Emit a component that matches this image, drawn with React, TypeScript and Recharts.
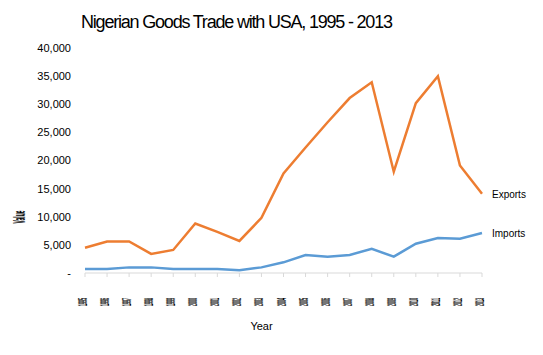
import { LineChart, Line, XAxis, YAxis, LabelList } from 'recharts';

const years = ['1995', '1996', '1997', '1998', '1999', '2000', '2001', '2002', '2003', '2004', '2005', '2006', '2007', '2008', '2009', '2010', '2011', '2012', '2013'];
const exportsUS = [4500, 5600, 5600, 3400, 4100, 8800, 7300, 5700, 9800, 17700, 22300, 26800, 31100, 33900, 18000, 30200, 35000, 19100, 14100];
const importsUS = [700, 700, 1000, 1000, 700, 700, 700, 500, 1000, 1900, 3200, 2900, 3200, 4300, 2900, 5200, 6200, 6100, 7100];
const yTicks = [0, 5000, 10000, 15000, 20000, 25000, 30000, 35000, 40000];

const data = years.map((year, i) => ({ year, exports: exportsUS[i], imports: importsUS[i] }));

const FONT = '"Liberation Sans", Arial, sans-serif';

function fmt(v: number) {
  return v === 0 ? '-' : v.toLocaleString('en-US');
}

// squashed, rotated year labels as in the source image
function YearTick(props: any) {
  const { x, y, payload } = props;
  return (
    <text
      transform={`translate(${x + 2},${y + 23}) rotate(-90)`}
      textAnchor="middle"
      fontSize={12}
      fontWeight="bold"
      fontFamily={FONT}
      fill="#000"
      textLength={8}
      lengthAdjust="spacingAndGlyphs"
    >
      {payload.value}
    </text>
  );
}

function endLabel(name: string) {
  return (props: any) => {
    const { x, y, index } = props;
    if (index !== years.length - 1) return null;
    return (
      <text x={x + 10} y={y + 4} fontSize={10} fontFamily={FONT} fill="#000">
        {name}
      </text>
    );
  };
}

export default function App() {
  return (
    <div style={{ position: 'absolute', left: 0, top: 0, width: 543, height: 355, background: '#fff', fontFamily: FONT }}>
      <div style={{ position: 'absolute', left: 81, top: 12, fontSize: 18, lineHeight: '20px', letterSpacing: -1.2, color: '#000', whiteSpace: 'nowrap' }}>
        Nigerian Goods Trade with USA, 1995 - 2013
      </div>
      <LineChart width={543} height={355} data={data} margin={{ top: 48, right: 61, bottom: 0, left: 0 }}>
        <XAxis
          dataKey="year"
          height={82}
          stroke="#d9d9d9"
          tickSize={4}
          interval={0}
          tick={<YearTick />}
          label={{ value: 'Year', position: 'insideBottom', offset: 25, dx: -22, fontSize: 11, fill: '#000', fontFamily: FONT }}
        />
        <YAxis
          width={85}
          domain={[0, 40000]}
          ticks={yTicks}
          axisLine={false}
          tickLine={false}
          tickSize={0}
          tickMargin={14}
          tickFormatter={fmt}
          tick={{ fontSize: 11, fill: '#000', fontFamily: FONT }}
          label={{
            content: () => (
              <text
                transform="translate(25,217) rotate(-90)"
                textAnchor="middle"
                fontSize={16}
                fontWeight="bold"
                fontFamily={FONT}
                fill="#000"
                textLength={13}
                lengthAdjust="spacingAndGlyphs"
              >
                Value
              </text>
            ),
          }}
        />
        <Line dataKey="exports" stroke="#ED7D31" strokeWidth={2.5} dot={false} isAnimationActive={false}>
          <LabelList content={endLabel('Exports')} />
        </Line>
        <Line dataKey="imports" stroke="#5B9BD5" strokeWidth={2.5} dot={false} isAnimationActive={false}>
          <LabelList content={endLabel('Imports')} />
        </Line>
      </LineChart>
    </div>
  );
}
